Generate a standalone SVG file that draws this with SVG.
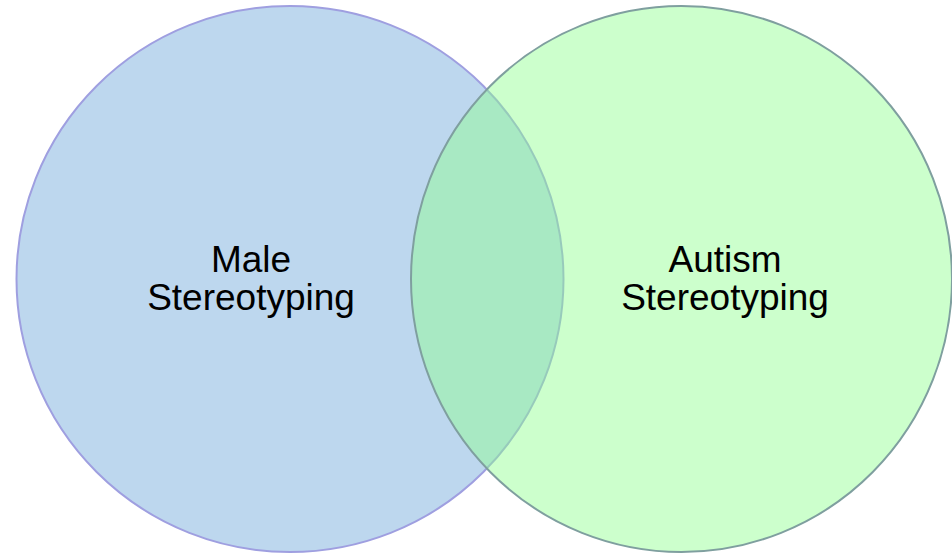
<svg xmlns="http://www.w3.org/2000/svg" width="952" height="553" viewBox="0 0 952 553">
<style>
.lbl{font-family:"Liberation Sans",Arial,sans-serif;font-size:37px;fill:#000;text-anchor:middle}
</style>
<rect width="952" height="553" fill="#ffffff"/>
<g id="male">
<ellipse cx="290" cy="279" rx="273.5" ry="273" fill="#bdd7ee" stroke="#9f9fe0" stroke-width="2"/>
<text class="lbl" x="251" y="272">Male</text>
<text class="lbl" x="251" y="309.5">Stereotyping</text>
</g>
<g id="autism">
<ellipse cx="681.5" cy="279" rx="270.5" ry="273" fill="#8fff8f" fill-opacity="0.455" stroke="#7f9f9f" stroke-width="2"/>
<text class="lbl" x="725" y="272">Autism</text>
<text class="lbl" x="725" y="309.5">Stereotyping</text>
</g>
<g id="connectors"/>
</svg>
